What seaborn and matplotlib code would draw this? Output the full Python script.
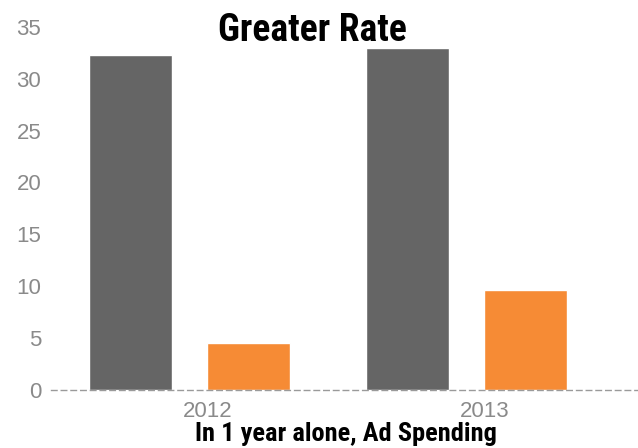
import pandas as pd
import seaborn as sns
import matplotlib.pyplot as plt

# --- datos ---
years = ["2012", "2013"]
series_names = ["serie oscura", "serie naranja"]
dark_values = [32.3, 33.0]
orange_values = [4.5, 9.6]
y_ticks = [0, 5, 10, 15, 20, 25, 30, 35]

colors = ["#656565", "#F68B35"]

df = pd.DataFrame({
    "year": years * 2,
    "serie": [series_names[0]] * 2 + [series_names[1]] * 2,
    "value": dark_values + orange_values,
})

sns.set_style("white")
plt.rcParams["font.family"] = ["Liberation Sans", "DejaVu Sans"]

fig = plt.figure(figsize=(6.38, 4.48), dpi=100)
ax = fig.add_axes([0.08, 0.13, 0.92, 0.81])

sns.barplot(data=df, x="year", y="value", hue="serie", palette=colors,
            width=0.855, gap=0.3, legend=False, ax=ax, saturation=1)

ax.set_xlim(-0.5, 1.62)
ax.set_ylim(0, 35)
ax.set_yticks(y_ticks)
ax.set_xticks([0.065, 1.065])
ax.set_xticklabels(years)
ax.set_xlabel("")
ax.set_ylabel("")
ax.tick_params(axis="both", length=0, colors="#8a8a8a", labelsize=16)
ax.tick_params(axis="x", pad=8)
ax.tick_params(axis="y", pad=7)

for s in ["top", "right", "left"]:
    ax.spines[s].set_visible(False)
ax.spines["bottom"].set_color("#9a9a9a")
ax.spines["bottom"].set_linestyle((0, (4, 3)))
ax.spines["bottom"].set_linewidth(1)

# titulo y texto inferior en fuente condensada
narrow = ["Roboto Condensed", "Roboto", "DejaVu Sans"]
fig.text(0.49, 1 - 41 / 448, "Greater Rate", ha="center", va="baseline",
         fontsize=27, fontweight="bold", family=narrow, color="black")
fig.text(0.542, 1 - 441 / 448, "In 1 year alone, Ad Spending", ha="center",
         va="baseline", fontsize=19, fontweight="bold", family=narrow,
         color="black")

plt.savefig("out.png", dpi=100)
